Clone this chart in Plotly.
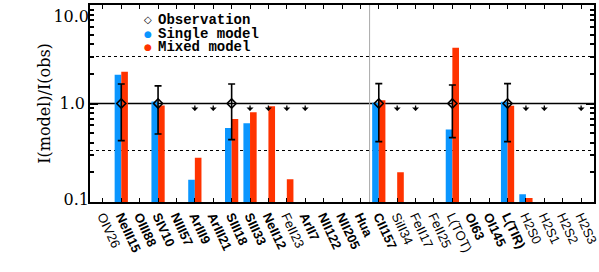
import plotly.graph_objects as go
import math

categories = ["OIV26", "NeIII15", "OIII88", "SIV10", "NIII57", "ArIII9", "ArIII21",
              "SIII18", "SIII33", "NeII12", "FeII23", "ArII7", "NII122", "NII205",
              "Hua", "CII157", "SiII34", "FeII17", "FeII25", "L(TOT)", "OI63",
              "OI145", "L(TIR)", "H2S0", "H2S1", "H2S2", "H2S3"]
bold_labels = ["NeIII15", "OIII88", "SIV10", "NIII57", "ArIII9", "ArIII21", "SIII18",
               "SIII33", "NeII12", "ArII7", "NII122", "NII205", "Hua", "CII157",
               "OI63", "OI145", "L(TIR)"]

single_model = [None, 1.96, None, 1.05, None, 0.168, None, 0.564, 0.63, None, None,
                None, None, None, None, 1.02, None, None, None, 0.543, None, None,
                1.04, 0.12, None, None, None]
mixed_model = [None, 2.10, None, 0.955, None, 0.281, None, 0.695, 0.817, 0.94, 0.17,
               None, None, None, None, 1.08, 0.20, None, None, 3.69, None, None,
               0.948, 0.11, None, None, None]

obs_lines = ["NeIII15", "SIV10", "SIII18", "CII157", "L(TOT)", "L(TIR)"]
obs_value = [1.0, 1.0, 1.0, 1.0, 1.0, 1.0]
obs_upper = [1.58, 1.51, 1.58, 1.59, 1.54, 1.59]
obs_lower = [0.42, 0.49, 0.43, 0.41, 0.45, 0.41]

limit_lines = ["ArIII9", "ArIII21", "SIII33", "NeII12", "FeII23", "ArII7", "SiII34",
               "FeII17", "H2S0", "H2S1", "H2S3"]
limit_value = 1.0

y_tickvals = [0.1, 1, 10]
y_ticktext = ["0.1", "1.0", "10.0"]

xs = list(range(len(categories)))
idx = {c: i for i, c in enumerate(categories)}
ticktext = [f"<b>{c}</b>" if c in bold_labels else c for c in categories]

BLUE = "#0A96FF"
RED = "#FF3300"

fig = go.Figure()
fig.add_trace(go.Bar(x=xs, y=single_model, marker=dict(color=BLUE, line=dict(width=0)),
                     name="Single model", showlegend=False))
fig.add_trace(go.Bar(x=xs, y=mixed_model, marker=dict(color=RED, line=dict(width=0)),
                     name="Mixed model", showlegend=False))

fig.add_trace(go.Scatter(
    x=[idx[c] for c in obs_lines], y=obs_value, mode="markers",
    marker=dict(symbol="diamond-open", size=7, color="black", line=dict(width=1.6)),
    error_y=dict(type="data", symmetric=False,
                 array=[u - v for u, v in zip(obs_upper, obs_value)],
                 arrayminus=[v - l for l, v in zip(obs_lower, obs_value)],
                 color="black", thickness=1.6, width=3.5),
    showlegend=False))

# empty traces so the label-only overlay axes are drawn
fig.add_trace(go.Scatter(x=[None], y=[None], yaxis="y2", mode="markers",
                         showlegend=False, hoverinfo="skip"))
fig.add_trace(go.Scatter(x=[None], y=[None], yaxis="y3", mode="markers",
                         showlegend=False, hoverinfo="skip"))

# upper-limit arrows (head just below the limit, tail at the limit line)
for c in limit_lines:
    fig.add_annotation(x=idx[c], y=math.log10(limit_value) - 0.075, xref="x", yref="y",
                       ax=0, ay=-7, axref="pixel", ayref="pixel", text="",
                       showarrow=True, arrowhead=1, arrowsize=0.9, arrowwidth=1.3,
                       arrowcolor="black")

# reference lines
fig.add_shape(type="line", xref="paper", yref="y", x0=0, x1=1, y0=1, y1=1,
              line=dict(color="black", width=1.5), layer="below")
for yv in [3.0, 1 / 3.0]:
    fig.add_shape(type="line", xref="paper", yref="y", x0=0, x1=1, y0=yv, y1=yv,
                  line=dict(color="black", width=1, dash="dot"), layer="below")
fig.add_shape(type="line", xref="x", yref="paper", x0=14.5, x1=14.5, y0=0, y1=1,
              line=dict(color="#aaaaaa", width=1), layer="below")

# legend drawn as annotations
leg_font = dict(family="Liberation Mono", size=14, color="black")
rows = [("◇", "black", "<b>Observation</b>", 0.924),
        ("●", BLUE, "<b>Single model</b>", 0.855),
        ("●", RED, "<b>Mixed model</b>", 0.787)]
for sym, col, txt, yp in rows:
    fig.add_annotation(xref="paper", yref="paper", x=0.115, y=yp, text=sym,
                       showarrow=False, xanchor="center", yanchor="middle", borderpad=0,
                       font=dict(family="DejaVu Sans", size=9 if sym == "●" else 10,
                                 color=col))
    fig.add_annotation(xref="paper", yref="paper", x=0.132, y=yp, text=txt,
                       showarrow=False, xanchor="left", yanchor="middle", borderpad=0,
                       font=leg_font)

tick_font = dict(family="DejaVu Serif", size=16, color="black")

fig.update_layout(
    width=599, height=272,
    margin=dict(l=90, r=5, t=5, b=70, autoexpand=False),
    paper_bgcolor="white", plot_bgcolor="white",
    barmode="group", bargap=0.28, bargroupgap=0,
    showlegend=False,
    xaxis=dict(range=[-0.7, 26.7], tickmode="array", tickvals=xs, ticktext=ticktext,
               tickangle=65, ticks="inside", ticklen=4, tickwidth=1, tickcolor="black",
               showline=True, linecolor="black", linewidth=1.5, mirror="ticks",
               showgrid=False, zeroline=False, automargin=False,
               ticklabeloverflow="allow",
               tickfont=dict(family="Liberation Sans", size=13, color="black")),
    # main axis: ticks, 1.0 label, title
    yaxis=dict(type="log", range=[-1, 1], tickmode="array", tickvals=y_tickvals,
               ticktext=["", y_ticktext[1], ""], ticks="inside", ticklen=8,
               tickwidth=1.5, tickcolor="black",
               minor=dict(tickvals=[0.2, 0.3, 0.4, 0.5, 0.6, 0.7, 0.8, 0.9,
                                    2, 3, 4, 5, 6, 7, 8, 9],
                          ticks="inside", ticklen=4, tickwidth=1.5, tickcolor="black",
                          showgrid=False),
               showline=True, linecolor="black", linewidth=1.5, mirror="ticks",
               showgrid=False, zeroline=False, automargin=False,
               ticklabeloverflow="allow", tickfont=tick_font,
               title=dict(text="I(model)/I(obs)", standoff=5,
                          font=dict(family="DejaVu Serif", size=16, color="black"))),
    # label-only overlay for the top label (kept inside the figure)
    yaxis2=dict(type="log", range=[-1, 1], overlaying="y", side="left", anchor="x",
                tickmode="array", tickvals=y_tickvals, ticktext=["", "", y_ticktext[2]],
                ticks="", showline=False, showgrid=False, zeroline=False,
                ticklabelposition="outside bottom", ticklabeloverflow="allow",
                automargin=False, tickfont=tick_font),
    # label-only overlay for the bottom label, nudged up a little
    yaxis3=dict(type="log", range=[-1, 1], overlaying="y", side="left", anchor="x",
                tickmode="array", tickvals=y_tickvals, ticktext=[y_ticktext[0], "", ""],
                ticks="", showline=False, showgrid=False, zeroline=False,
                ticklabelshift=-3, ticklabeloverflow="allow",
                automargin=False, tickfont=tick_font),
)

fig.write_html("out.html", config={"displayModeBar": False},
               post_script="document.body.style.margin='0';document.body.style.overflow='hidden';")
